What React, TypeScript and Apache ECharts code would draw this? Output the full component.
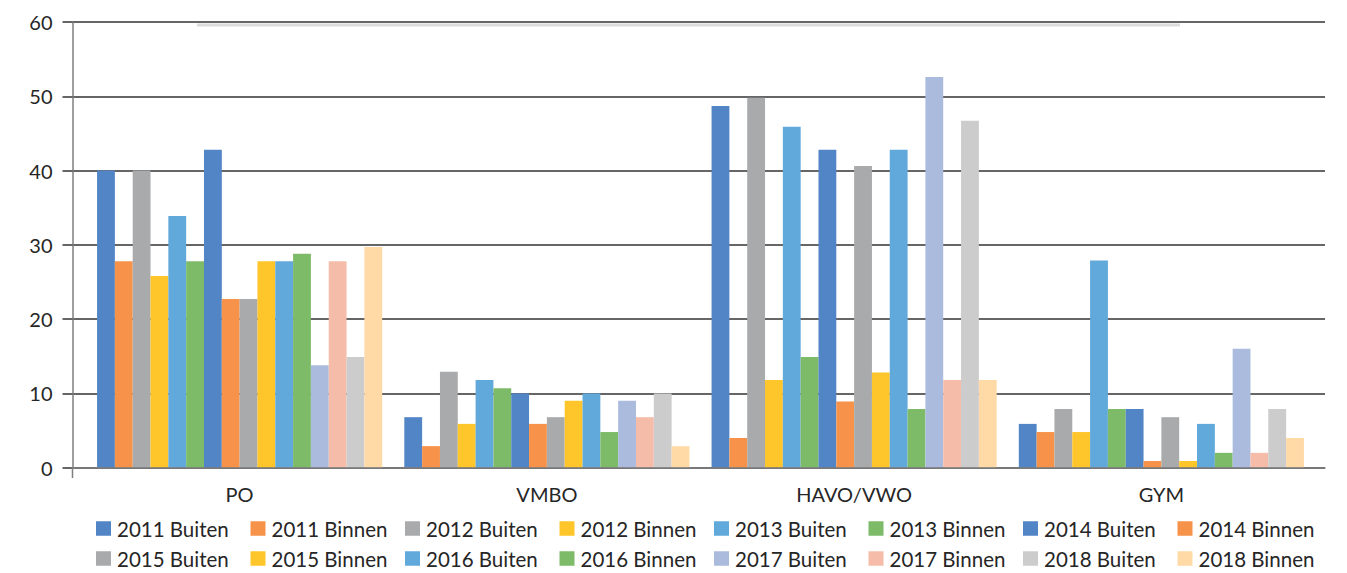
import React, { useEffect, useRef } from "react";
import * as echarts from "echarts";

const categories = ["PO", "VMBO", "HAVO/VWO", "GYM"];
const seriesNames = [
  "2011 Buiten", "2011 Binnen", "2012 Buiten", "2012 Binnen",
  "2013 Buiten", "2013 Binnen", "2014 Buiten", "2014 Binnen",
  "2015 Buiten", "2015 Binnen", "2016 Buiten", "2016 Binnen",
  "2017 Buiten", "2017 Binnen", "2018 Buiten", "2018 Binnen",
];
// values per series: [PO, VMBO, HAVO/VWO, GYM]
const s2011Buiten = [40, 6.8, 48.7, 5.9];
const s2011Binnen = [27.8, 2.9, 4, 4.8];
const s2012Buiten = [40, 12.9, 49.8, 7.9];
const s2012Binnen = [25.8, 5.9, 11.8, 4.8];
const s2013Buiten = [33.9, 11.8, 45.9, 27.9];
const s2013Binnen = [27.8, 10.7, 14.9, 7.9];
const s2014Buiten = [42.8, 10, 42.8, 7.9];
const s2014Binnen = [22.7, 5.9, 8.9, 0.9];
const s2015Buiten = [22.7, 6.8, 40.6, 6.8];
const s2015Binnen = [27.8, 9, 12.8, 0.9];
const s2016Buiten = [27.8, 10, 42.8, 5.9];
const s2016Binnen = [28.8, 4.8, 7.9, 2];
const s2017Buiten = [13.8, 9, 52.6, 16];
const s2017Binnen = [27.8, 6.8, 11.8, 2];
const s2018Buiten = [14.9, 10, 46.7, 7.9];
const s2018Binnen = [29.7, 2.9, 11.8, 4];
const seriesValues = [
  s2011Buiten, s2011Binnen, s2012Buiten, s2012Binnen,
  s2013Buiten, s2013Binnen, s2014Buiten, s2014Binnen,
  s2015Buiten, s2015Binnen, s2016Buiten, s2016Binnen,
  s2017Buiten, s2017Binnen, s2018Buiten, s2018Binnen,
];
const colors = [
  "#5185c5", "#f6924a", "#a9aaab", "#fec62a",
  "#61a8db", "#7dbb68", "#5185c5", "#f6924a",
  "#a9aaab", "#fec62a", "#61a8db", "#7dbb68",
  "#abbbdd", "#f4bca9", "#cbcccb", "#ffdaa6",
];
const yTicks = [0, 10, 20, 30, 40, 50, 60];

const FONT = "Lato, 'Open Sans', sans-serif";
const TXT = "#262626";

export default function App() {
  const ref = useRef<HTMLDivElement>(null);
  useEffect(() => {
    if (!ref.current) return;
    const chart = echarts.init(ref.current, null, { renderer: "svg" });
    const top = 22;
    const bottom = 573 - 467.7;
    const legends = seriesNames.map((name, i) => ({
      data: [name],
      left: 96 + (i % 8) * 154.5,
      top: i < 8 ? 518 : 548,
      orient: "horizontal",
      padding: 0,
      itemGap: 0,
      itemWidth: 15,
      itemHeight: 14.5,
      icon: "rect",
      selectedMode: false,
      textStyle: { fontSize: 20.5, lineHeight: 20, color: TXT, fontFamily: FONT, padding: [0, 0, 0, 1] },
    }));
    chart.setOption({
      animation: false,
      color: colors,
      legend: legends,
      graphic: [
        { type: "rect", shape: { x: 197, y: 23.5, width: 983, height: 3 }, style: { fill: "#dcdcdc" }, z: 0 },
        { type: "line", shape: { x1: 72.5, y1: 467, x2: 72.5, y2: 478 }, style: { stroke: "#7f7f7f", lineWidth: 1.5 }, z: 10 },
      ],
      grid: [
        { left: 72.5, right: 22, top, bottom },
        { left: 86, right: 1347 - 1315, top, bottom },
      ],
      xAxis: [
        {
          type: "category", gridIndex: 0, data: [""],
          axisLine: { show: true, lineStyle: { color: "#7f7f7f", width: 1.5 } },
          axisTick: { show: false }, axisLabel: { show: false },
          z: 5,
        },
        {
          type: "category", gridIndex: 1, data: categories,
          axisLine: { show: false }, axisTick: { show: false },
          axisLabel: { fontSize: 20, color: TXT, fontFamily: FONT, margin: 16 },
        },
      ],
      yAxis: [
        {
          type: "value", gridIndex: 0, min: yTicks[0], max: yTicks[yTicks.length - 1], interval: 10,
          axisLine: { show: true, lineStyle: { color: "#7f7f7f", width: 1.5 } },
          axisTick: { show: true, length: 10, lineStyle: { color: "#333", width: 1.5 } },
          axisLabel: { fontSize: 20, color: TXT, fontFamily: FONT, margin: 20 },
          splitLine: { show: true, lineStyle: { color: "#333", width: 1.5 } },
        },
        {
          type: "value", gridIndex: 1, min: 0, max: 60, interval: 10, show: false,
          splitLine: { show: false },
        },
      ],
      series: seriesNames.map((name, i) => ({
        name,
        type: "bar",
        xAxisIndex: 1,
        yAxisIndex: 1,
        data: seriesValues[i],
        barGap: "0%",
        barCategoryGap: "7.2%",
        itemStyle: { color: colors[i] },
        z: 3,
      })),
    });
    return () => chart.dispose();
  }, []);
  return <div ref={ref} style={{ width: 1347, height: 573, position: "absolute", left: 0, top: 0 }} />;
}
